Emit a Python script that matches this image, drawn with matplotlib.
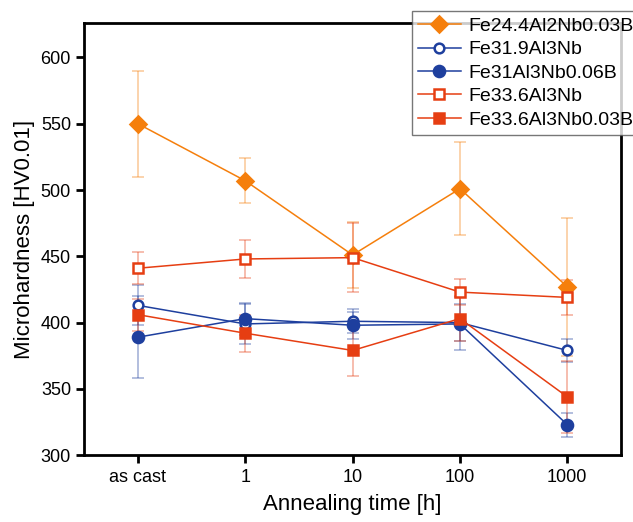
import numpy as np
import matplotlib
matplotlib.use("Agg")
import matplotlib.pyplot as plt

plt.rcParams["font.family"] = ["Liberation Sans", "DejaVu Sans"]

# Annealing times (categorical positions)
times = ["as cast", "1", "10", "100", "1000"]

# Microhardness values and standard deviations
fe244_mean = [550, 507, 451, 501, 427]
fe244_err = [40, 17, 25, 35, 52]

fe319_mean = [413, 399, 401, 400, 379]
fe319_err = [15, 15, 9, 14, 9]

fe31b_mean = [389, 403, 398, 399, 323]
fe31b_err = [31, 12, 10, 20, 9]

fe336_mean = [441, 448, 449, 423, 419]
fe336_err = [12, 14, 26, 10, 13]

fe336b_mean = [406, 392, 379, 403, 344]
fe336b_err = [12, 14, 19, 17, 27]

orange = "#F57F0C"
blue = "#1E3F9E"
red = "#E63E12"

series = [
    ("Fe24.4Al2Nb0.03B", fe244_mean, fe244_err, orange, "D", True, 8),
    ("Fe31.9Al3Nb", fe319_mean, fe319_err, blue, "o", False, 7),
    ("Fe31Al3Nb0.06B", fe31b_mean, fe31b_err, blue, "o", True, 8),
    ("Fe33.6Al3Nb", fe336_mean, fe336_err, red, "s", False, 6.5),
    ("Fe33.6Al3Nb0.03B", fe336b_mean, fe336b_err, red, "s", True, 7),
]

fig = plt.figure(figsize=(6.33, 5.22), dpi=100)
ax = fig.add_axes([0.133, 0.128, 0.848, 0.828])

x = np.arange(len(times))
handles = []
for label, mean, err, color, marker, filled, ms in series:
    # light error bars behind the data line
    ax.errorbar(x, mean, yerr=err, fmt="none", ecolor=color, alpha=0.4,
                elinewidth=1.2, capsize=4, capthick=1.2, zorder=2)
    line, = ax.plot(x, mean, color=color, lw=1.1, marker=marker, markersize=ms,
                    markerfacecolor=color if filled else "white",
                    markeredgecolor=color, markeredgewidth=1.8, label=label,
                    zorder=3)
    handles.append(line)

ax.set_xlim(-0.5, 4.5)
ax.set_ylim(300, 626)
ax.set_xticks(x)
ax.set_xticklabels(times)
ax.set_yticks([300, 350, 400, 450, 500, 550, 600])

for spine in ax.spines.values():
    spine.set_linewidth(2)
ax.tick_params(axis="both", direction="out", width=2, length=6,
               labelsize=13, colors="black")
ax.tick_params(axis="x", pad=4)

ax.set_xlabel("Annealing time [h]", fontsize=16, labelpad=6)
ax.set_ylabel("Microhardness [HV0.01]", fontsize=16, labelpad=4)

leg = fig.legend(handles=handles, loc="upper left",
                 bbox_to_anchor=(0.651, 0.978), fontsize=14,
                 frameon=True, fancybox=False, edgecolor="#555555",
                 handlelength=2.2, handletextpad=0.4, labelspacing=0.3,
                 borderpad=0.3, borderaxespad=0)
leg.get_frame().set_linewidth(1)

fig.savefig("out.png", dpi=100)
